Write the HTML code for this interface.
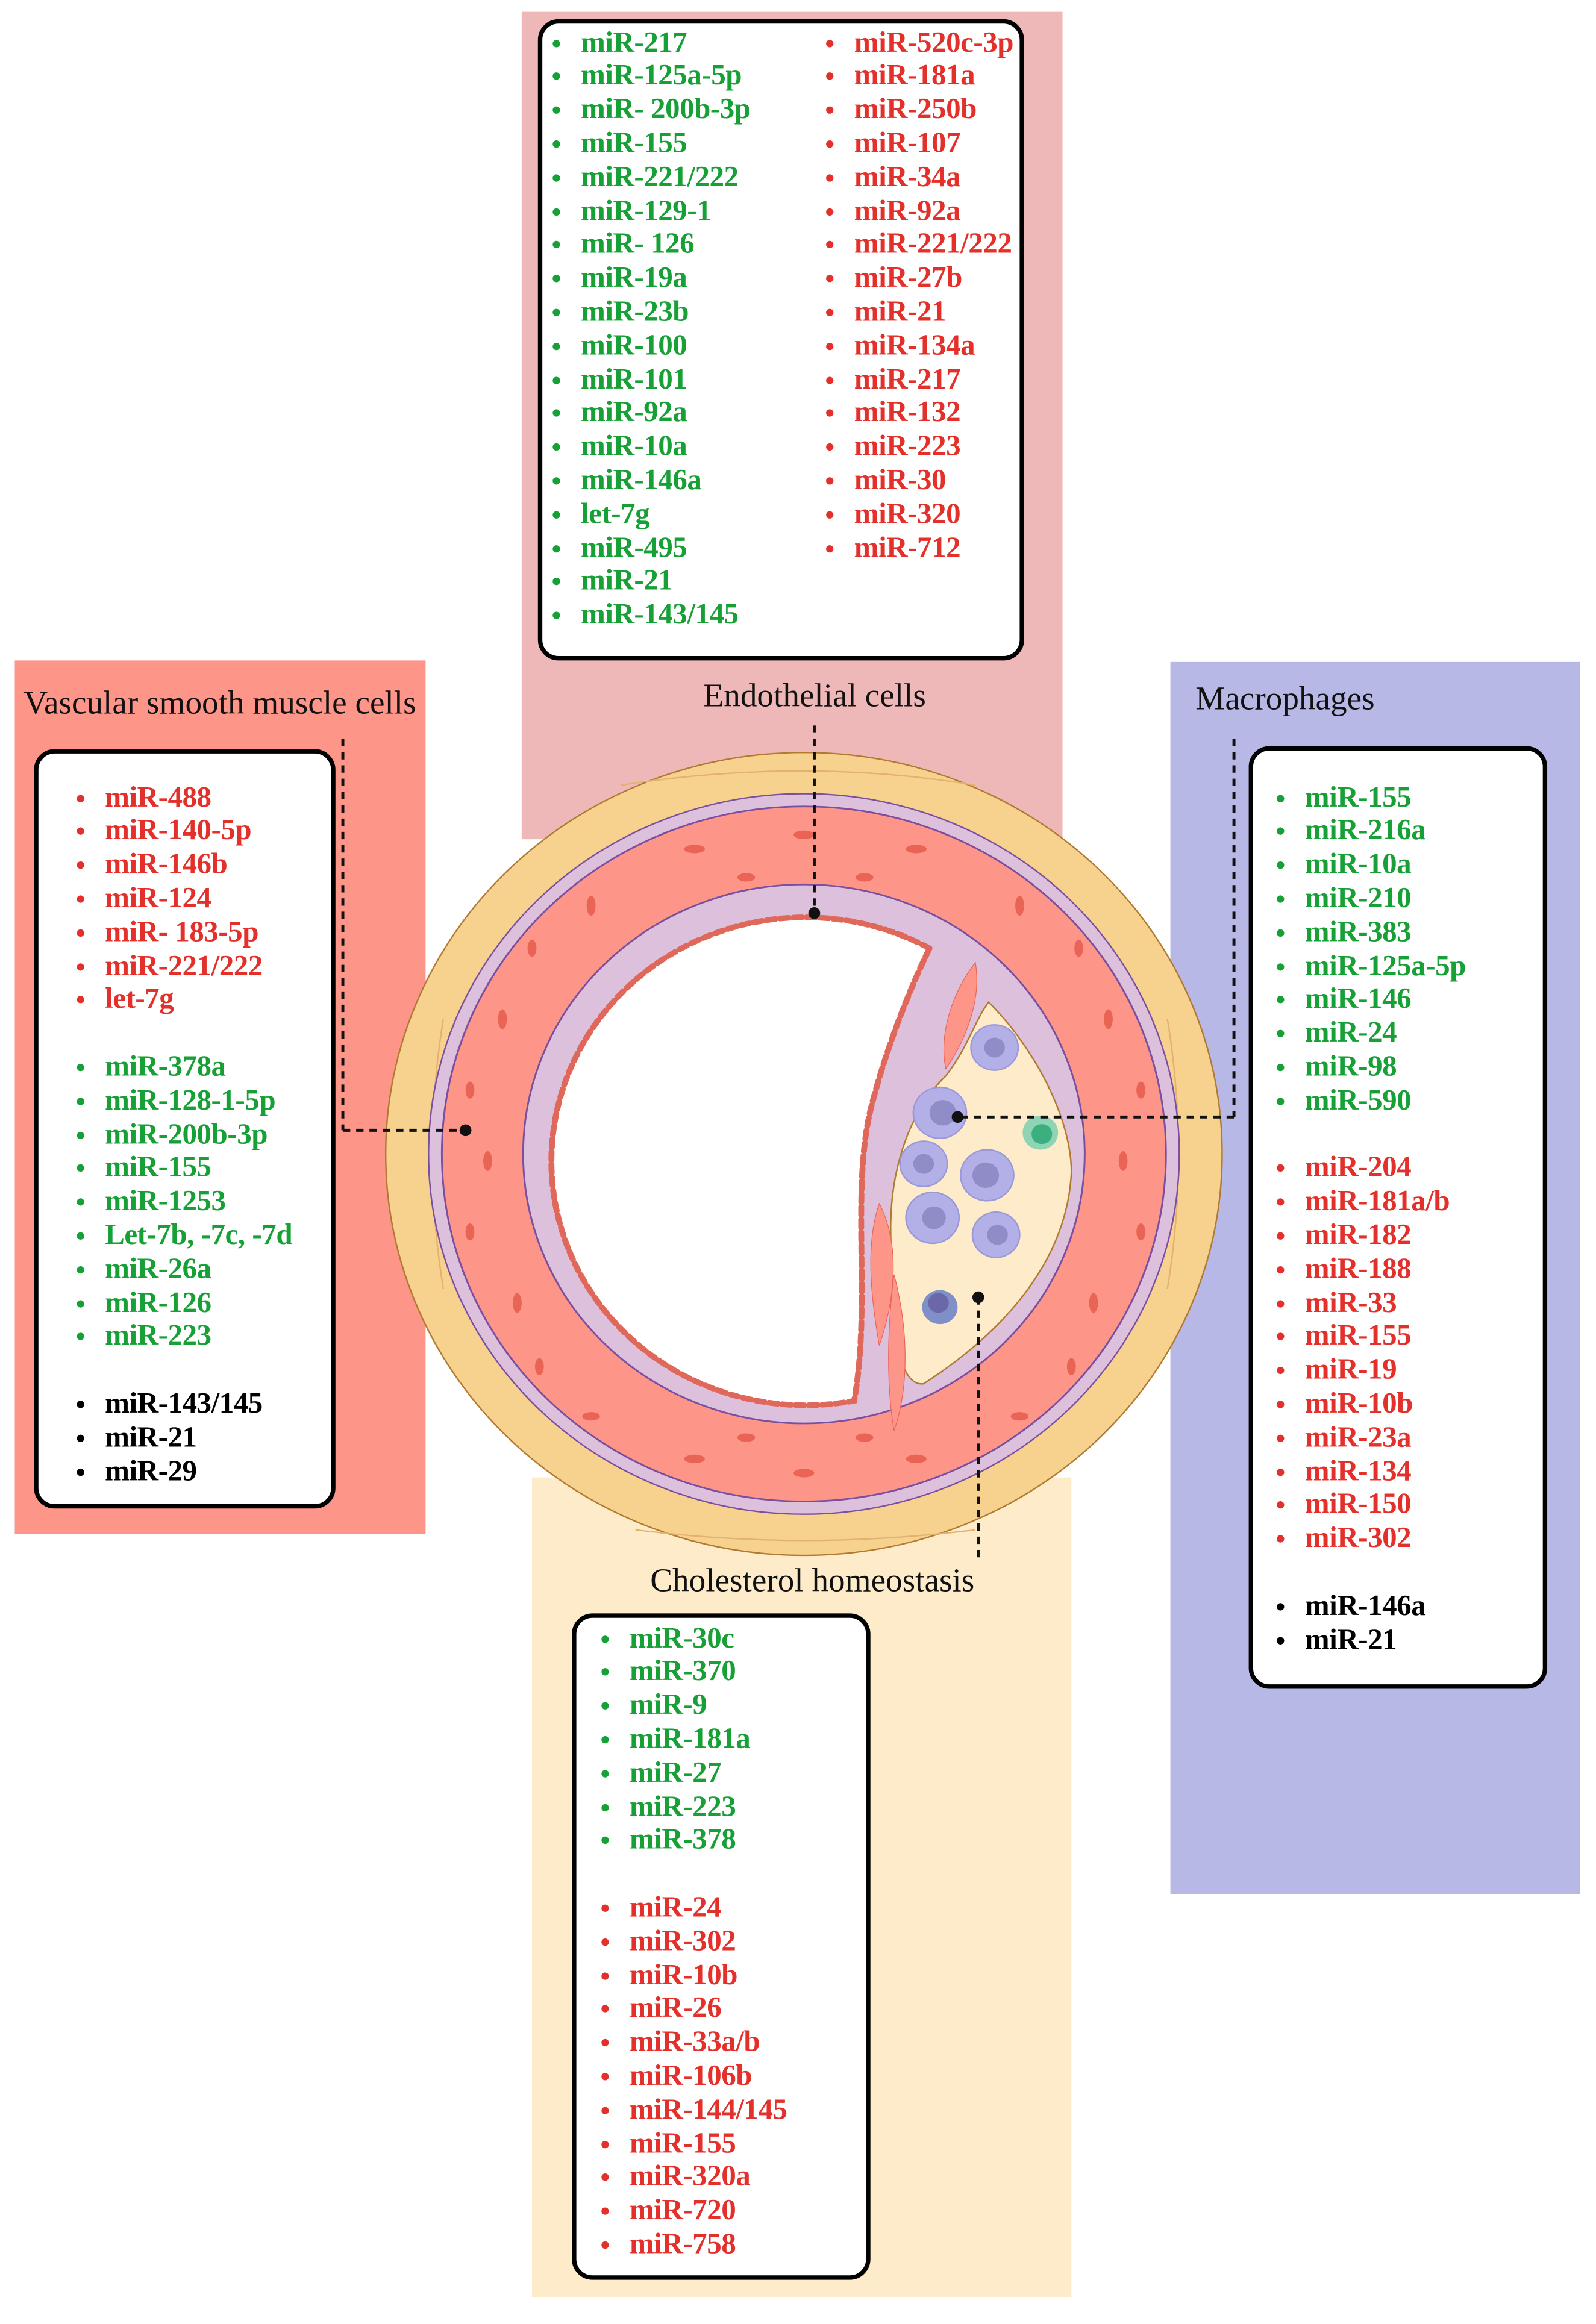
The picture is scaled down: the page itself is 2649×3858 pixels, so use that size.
<!DOCTYPE html>
<html><head><meta charset="utf-8"><style>
html,body{margin:0;padding:0;background:#fff;}
body{width:2649px;height:3858px;overflow:hidden;position:relative;}
#w{position:absolute;left:0;top:0;width:1080px;height:1573px;transform:scale(2.452778);transform-origin:0 0;font-family:"Liberation Serif",serif;}
.p{position:absolute;}
.box{position:absolute;background:#fff;border:3px solid #000;border-radius:14px;box-sizing:border-box;}
.l{position:absolute;font-weight:bold;font-size:20px;line-height:22.8px;white-space:nowrap;letter-spacing:-0.2px;}
.l div{height:22.8px;position:relative;padding-left:22px;}
.l div.b{padding:0}
.l div:not(.b)::before{content:"";position:absolute;left:3px;top:9px;width:5px;height:5px;border-radius:50%;background:currentColor;}
.r{color:#e3302a}.g{color:#16a035}.k{color:#000}
.t{position:absolute;font-size:22.5px;white-space:nowrap;color:#111;}
</style></head><body><div id="w">
<div class="p" style="left:10px;top:447px;width:278px;height:591px;background:#fd9589"></div>
<div class="p" style="left:353px;top:8px;width:366px;height:560px;background:#efb8b8"></div>
<div class="p" style="left:792px;top:448px;width:277px;height:834px;background:#b8b8e6"></div>
<div class="p" style="left:360px;top:1000px;width:365px;height:555px;background:#fdebc9"></div>

<svg class="p" style="left:0;top:0" width="1080" height="1573" viewBox="0 0 1080 1573">
<g transform="translate(0,781) scale(1,0.96) translate(0,-795)">
<circle cx="544" cy="795" r="283" fill="#f7d28f" stroke="#b07a30" stroke-width="1"/>
<g fill="none" stroke="#e3b170" stroke-width="1">
<path d="M420,535 Q544,515 660,535"/><path d="M300,700 Q285,795 300,890"/><path d="M790,700 Q805,795 790,890"/><path d="M430,1060 Q544,1075 660,1060"/>
</g>
<circle cx="544" cy="795" r="254" fill="#dcc0dc" stroke="#7b4fa0" stroke-width="1"/>
<circle cx="544" cy="795" r="245" fill="#fd9589" stroke="#7b4fa0" stroke-width="1.2"/>
<g fill="#ea6456">
<ellipse cx="544" cy="570" rx="7" ry="3"/><ellipse cx="470" cy="580" rx="7" ry="3"/><ellipse cx="620" cy="580" rx="7" ry="3"/>
<ellipse cx="400" cy="620" rx="3" ry="7"/><ellipse cx="690" cy="620" rx="3" ry="7"/><ellipse cx="340" cy="700" rx="3" ry="7"/>
<ellipse cx="750" cy="700" rx="3" ry="7"/><ellipse cx="330" cy="800" rx="3" ry="7"/><ellipse cx="760" cy="800" rx="3" ry="7"/>
<ellipse cx="350" cy="900" rx="3" ry="7"/><ellipse cx="740" cy="900" rx="3" ry="7"/><ellipse cx="400" cy="980" rx="6" ry="3"/>
<ellipse cx="690" cy="980" rx="6" ry="3"/><ellipse cx="544" cy="1020" rx="7" ry="3"/><ellipse cx="470" cy="1010" rx="7" ry="3"/><ellipse cx="620" cy="1010" rx="7" ry="3"/>
<ellipse cx="505" cy="600" rx="6" ry="3"/><ellipse cx="585" cy="600" rx="6" ry="3"/><ellipse cx="360" cy="650" rx="3" ry="6"/><ellipse cx="730" cy="650" rx="3" ry="6"/>
<ellipse cx="318" cy="750" rx="3" ry="6"/><ellipse cx="772" cy="750" rx="3" ry="6"/><ellipse cx="318" cy="850" rx="3" ry="6"/><ellipse cx="772" cy="850" rx="3" ry="6"/>
<ellipse cx="365" cy="945" rx="3" ry="6"/><ellipse cx="725" cy="945" rx="3" ry="6"/><ellipse cx="505" cy="995" rx="6" ry="3"/><ellipse cx="585" cy="995" rx="6" ry="3"/>
</g>
<circle cx="544" cy="795" r="190" fill="#dcc0dc" stroke="#7b4fa0" stroke-width="1.2"/>
<path d="M629,650 A172,172 0 1 0 578,969 C590,900 575,820 590,760 C600,720 615,680 629,650 Z" fill="#fff" stroke="#e0685a" stroke-width="4" stroke-dasharray="6,3" stroke-linecap="round"/>
<path d="M669,688 C700,720 725,770 725,808 C722,870 680,920 625,957 C605,960 603,900 603,860 C600,800 620,760 640,740 C655,720 660,700 669,688 Z" fill="#fdebc9" stroke="#b07a30" stroke-width="1"/>
<path d="M660,660 C665,690 650,720 640,735 C635,710 645,680 660,660Z" fill="#fd9589" stroke="#ea6456" stroke-width="0.5"/>
<path d="M595,830 C585,860 590,900 595,930 C605,900 610,860 595,830Z" fill="#fd9589" stroke="#ea6456" stroke-width="0.5"/>
<path d="M605,880 C600,920 600,960 605,990 C615,960 615,920 605,880Z" fill="#fd9589" stroke="#ea6456" stroke-width="0.5"/>
<g fill="#b2b0e6" stroke="#9a98d8"><circle cx="673" cy="720" r="16"/><circle cx="636" cy="766" r="18"/><circle cx="625" cy="802" r="16"/><circle cx="668" cy="810" r="18"/><circle cx="631" cy="840" r="18"/><circle cx="674" cy="852" r="16"/></g>
<g fill="#8f8cc8"><circle cx="673" cy="720" r="7"/><circle cx="638" cy="766" r="9"/><circle cx="625" cy="802" r="7"/><circle cx="667" cy="810" r="9"/><circle cx="632" cy="840" r="8"/><circle cx="675" cy="852" r="7"/></g>
<circle cx="704" cy="780" r="12" fill="#8fd4b4"/><circle cx="705" cy="781" r="7" fill="#3bb07e"/>
<circle cx="636" cy="903" r="12" fill="#7f8fc8"/><circle cx="635" cy="900" r="7" fill="#6a68a8"/>
</g>
<g fill="none" stroke="#111" stroke-width="2" stroke-dasharray="5,4">
<line x1="232" y1="500" x2="232" y2="765"/><line x1="232" y1="765" x2="314" y2="765"/>
<line x1="551" y1="491" x2="551" y2="618"/>
<line x1="835" y1="500" x2="835" y2="756"/><line x1="835" y1="756" x2="648" y2="756"/>
<line x1="662" y1="878" x2="662" y2="1054"/>
</g>
<g fill="#111"><circle cx="315" cy="765" r="4"/><circle cx="551" cy="618" r="4"/><circle cx="648" cy="756" r="4"/><circle cx="662" cy="878" r="4"/></g>
</svg>

<div class="t" style="left:16px;top:463px">Vascular smooth muscle cells</div>
<div class="t" style="left:476px;top:458px">Endothelial cells</div>
<div class="t" style="left:809px;top:460px">Macrophages</div>
<div class="t" style="left:440px;top:1057px">Cholesterol homeostasis</div>

<div class="box" style="left:23px;top:507px;width:204px;height:514px"></div>
<div class="box" style="left:364px;top:13px;width:329px;height:434px"></div>
<div class="box" style="left:845px;top:505px;width:202px;height:638px"></div>
<div class="box" style="left:387px;top:1092px;width:202px;height:451px"></div>

<div class="l" style="left:49px;top:528.6px">
<div class="r">miR-488</div><div class="r">miR-140-5p</div><div class="r">miR-146b</div><div class="r">miR-124</div><div class="r">miR- 183-5p</div><div class="r">miR-221/222</div><div class="r">let-7g</div><div class="b"></div>
<div class="g">miR-378a</div><div class="g">miR-128-1-5p</div><div class="g">miR-200b-3p</div><div class="g">miR-155</div><div class="g">miR-1253</div><div class="g">Let-7b, -7c, -7d</div><div class="g">miR-26a</div><div class="g">miR-126</div><div class="g">miR-223</div><div class="b"></div>
<div class="k">miR-143/145</div><div class="k">miR-21</div><div class="k">miR-29</div>
</div>

<div class="l g" style="left:371px;top:17.6px">
<div>miR-217</div><div>miR-125a-5p</div><div>miR- 200b-3p</div><div>miR-155</div><div>miR-221/222</div><div>miR-129-1</div><div>miR- 126</div><div>miR-19a</div><div>miR-23b</div><div>miR-100</div><div>miR-101</div><div>miR-92a</div><div>miR-10a</div><div>miR-146a</div><div>let-7g</div><div>miR-495</div><div>miR-21</div><div>miR-143/145</div>
</div>
<div class="l r" style="left:556px;top:17.6px">
<div>miR-520c-3p</div><div>miR-181a</div><div>miR-250b</div><div>miR-107</div><div>miR-34a</div><div>miR-92a</div><div>miR-221/222</div><div>miR-27b</div><div>miR-21</div><div>miR-134a</div><div>miR-217</div><div>miR-132</div><div>miR-223</div><div>miR-30</div><div>miR-320</div><div>miR-712</div>
</div>

<div class="l" style="left:861px;top:528.6px">
<div class="g">miR-155</div><div class="g">miR-216a</div><div class="g">miR-10a</div><div class="g">miR-210</div><div class="g">miR-383</div><div class="g">miR-125a-5p</div><div class="g">miR-146</div><div class="g">miR-24</div><div class="g">miR-98</div><div class="g">miR-590</div><div class="b"></div>
<div class="r">miR-204</div><div class="r">miR-181a/b</div><div class="r">miR-182</div><div class="r">miR-188</div><div class="r">miR-33</div><div class="r">miR-155</div><div class="r">miR-19</div><div class="r">miR-10b</div><div class="r">miR-23a</div><div class="r">miR-134</div><div class="r">miR-150</div><div class="r">miR-302</div><div class="b"></div>
<div class="k">miR-146a</div><div class="k">miR-21</div>
</div>

<div class="l" style="left:404px;top:1097.6px">
<div class="g">miR-30c</div><div class="g">miR-370</div><div class="g">miR-9</div><div class="g">miR-181a</div><div class="g">miR-27</div><div class="g">miR-223</div><div class="g">miR-378</div><div class="b"></div>
<div class="r">miR-24</div><div class="r">miR-302</div><div class="r">miR-10b</div><div class="r">miR-26</div><div class="r">miR-33a/b</div><div class="r">miR-106b</div><div class="r">miR-144/145</div><div class="r">miR-155</div><div class="r">miR-320a</div><div class="r">miR-720</div><div class="r">miR-758</div>
</div>
</div></body></html>
